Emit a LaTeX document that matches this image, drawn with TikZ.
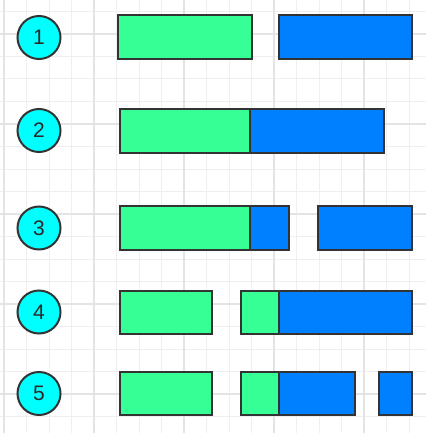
\documentclass[tikz,border=0pt]{standalone}
\usepackage{fontspec}
\setmainfont{Liberation Sans}
\definecolor{gfill}{HTML}{36FF95}
\definecolor{bfill}{HTML}{007FFF}
\definecolor{cfill}{HTML}{00FFFF}
\definecolor{edge}{HTML}{333333}
\definecolor{gridminor}{HTML}{EFEFEF}
\definecolor{gridmajor}{HTML}{E4E4E4}
\tikzset{
  boxbase/.style={draw=edge, line width=2pt, inner sep=0pt, outer sep=0pt, rectangle},
  gbox/.style={boxbase, fill=gfill},
  bbox/.style={boxbase, fill=bfill},
  numcirc/.style={circle, draw=edge, line width=2pt, fill=cfill, minimum size=43pt, inner sep=0pt,
    font=\fontsize{21}{21}\selectfont, text=edge!80!black},
}
\newcommand\mybox[6]{%
  \node[#2, minimum width={#5-#3}, minimum height={#6-#4}] (#1) at ({(#3+#5)/2},{(#4+#6)/2}) {};}
\begin{document}
\begin{tikzpicture}[x=1pt,y=-1pt]
\fill[white] (0,0) rectangle (426,433);
\useasboundingbox (0,0) rectangle (426,433);
% grid
\foreach \i in {0,...,18} {
  \pgfmathsetmacro\xx{4+22.5*\i}
  \draw[gridminor, line width=1pt] (\xx,0) -- (\xx,433);
}
\foreach \i in {0,...,18} {
  \pgfmathsetmacro\yy{11.5+22.5*\i}
  \draw[gridminor, line width=1pt] (0,\yy) -- (426,\yy);
}
\foreach \xx in {4,94,184,274,364} \draw[gridmajor, line width=1.2pt] (\xx,0) -- (\xx,433);
\foreach \yy in {34,124,214,304,394} \draw[gridmajor, line width=1.2pt] (0,\yy) -- (426,\yy);
% circles
\node[numcirc] (c1) at (39,37.5) {1};
\node[numcirc] (c2) at (39,130.5) {2};
\node[numcirc] (c3) at (39,228) {3};
\node[numcirc] (c4) at (39,312) {4};
\node[numcirc] (c5) at (39,393.5) {5};
% row 1
\mybox{g1}{gbox}{117.5}{15.5}{252}{59.5}
\mybox{b1}{bbox}{278.5}{15.5}{412}{59.5}
% row 2
\mybox{g2}{gbox}{119.5}{109}{249.5}{153}
\mybox{b2}{bbox}{249.5}{109}{384}{153}
% row 3
\mybox{g3}{gbox}{119.5}{206}{249.5}{249.5}
\mybox{b3a}{bbox}{249.5}{206}{289}{249.5}
\mybox{b3b}{bbox}{318}{206}{412}{249.5}
% row 4
\mybox{g4a}{gbox}{119.5}{291}{212}{333.5}
\mybox{g4b}{gbox}{240.5}{291}{279}{333.5}
\mybox{b4}{bbox}{279}{291}{412}{333.5}
% row 5
\mybox{g5a}{gbox}{119.5}{372}{212}{415}
\mybox{g5b}{gbox}{240.5}{372}{279}{415}
\mybox{b5a}{bbox}{279}{372}{355}{415}
\mybox{b5b}{bbox}{378.5}{372}{412}{415}
\end{tikzpicture}
\end{document}
